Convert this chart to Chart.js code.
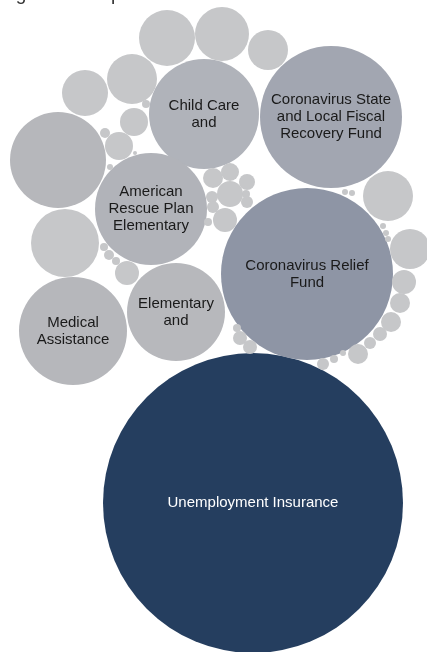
<!DOCTYPE html>
<html lang="en">
<head>
    <meta charset="UTF-8">
    <title>Bubbles</title>
    <script src="https://cdn.jsdelivr.net/npm/chart.js"></script>
    <style>
        body { margin: 0; background: #ffffff; }
        #wrap { width: 427px; height: 652px; position: relative; overflow: hidden; }
    </style>
</head>
<body>
<div id="wrap"><canvas id="bubbleChart" width="427" height="652"></canvas></div>
<script>
    // title (only the bottom of it shows at the top edge)
    const titleText = 'Figure 10: Top Federal Awards';

    // labelled programs: label lines, centre x, centre y, radius
    const programLabels = [
        ['Unemployment Insurance'],
        ['Coronavirus Relief', 'Fund'],
        ['Coronavirus State', 'and Local Fiscal', 'Recovery Fund'],
        ['Child Care', 'and'],
        ['American', 'Rescue Plan', 'Elementary'],
        ['Elementary', 'and'],
        ['Medical', 'Assistance']
    ];
    const programX = [253, 307, 331, 204, 151, 176, 73];
    const programY = [503, 274, 117, 114, 209, 312, 331];
    const programR = [150, 86, 71, 55, 56, 49, 54];

    // the unlabelled smaller programs
    const otherX = [167, 222, 268, 132, 85, 58, 65, 134, 119, 105, 146, 110, 135,
                    104, 109, 116, 127,
                    213, 230, 247, 230, 212, 247, 213, 225, 208, 246,
                    388, 410, 404, 400, 391, 380, 370, 358, 343, 334, 323, 383, 386, 388, 345, 352,
                    237, 240, 250];
    const otherY = [38, 34, 50, 79, 93, 160, 243, 122, 146, 133, 104, 167, 153,
                    247, 255, 261, 273,
                    178, 172, 182, 194, 197, 202, 207, 220, 222, 194,
                    196, 249, 282, 303, 322, 334, 343, 354, 353, 359, 364, 226, 233, 239, 192, 193,
                    328, 338, 347];
    const otherR = [28, 27, 20, 25, 23, 48, 34, 14, 14, 5, 4, 3, 2,
                    4, 5, 4, 12,
                    10, 9, 8, 13, 6, 6, 6, 12, 4, 4,
                    25, 20, 12, 10, 10, 7, 6, 10, 3, 4, 6, 3, 3, 3, 3, 3,
                    4, 7, 7];

    // styles
    const programColors = ['#253e5f', '#8e95a5', '#a2a6b1', '#b0b3ba', '#b1b3b9', '#b7b8bc', '#b6b7bb'];
    const programTextColors = ['#ffffff', '#1a1a1a', '#1a1a1a', '#1a1a1a', '#1a1a1a', '#1a1a1a', '#1a1a1a'];
    const otherColor = '#c6c7c9';
    const bigOtherColor = '#b6b7bb';

    const labelPlugin = {
        id: 'bubbleLabels',
        afterDatasetsDraw(chart) {
            const ctx = chart.ctx;
            const meta = chart.getDatasetMeta(1);
            ctx.save();
            ctx.font = '15px "Liberation Sans", Arial, sans-serif';
            ctx.textAlign = 'center';
            ctx.textBaseline = 'middle';
            meta.data.forEach((el, i) => {
                const lines = programLabels[i];
                const lh = 17;
                const top = el.y - (lines.length - 1) * lh / 2;
                ctx.fillStyle = programTextColors[i];
                lines.forEach((line, j) => ctx.fillText(line, el.x, top + j * lh));
            });
            // title, pushed above the top edge so only descenders remain
            ctx.textAlign = 'left';
            ctx.textBaseline = 'alphabetic';
            ctx.fillStyle = '#333333';
            ctx.font = '19px "Liberation Sans", Arial, sans-serif';
            ctx.fillText(titleText, 0, 0);
            ctx.restore();
        }
    };

    const ctx = document.getElementById('bubbleChart').getContext('2d');
    new Chart(ctx, {
        type: 'bubble',
        data: {
            datasets: [{
                label: 'Other',
                data: otherX.map((x, i) => ({ x: x, y: otherY[i], r: otherR[i] })),
                backgroundColor: otherR.map(r => r >= 45 ? bigOtherColor : otherColor),
                borderWidth: 0,
                hoverBorderWidth: 0
            }, {
                label: 'Programs',
                data: programX.map((x, i) => ({ x: x, y: programY[i], r: programR[i] })),
                backgroundColor: programColors,
                borderWidth: 0,
                hoverBorderWidth: 0
            }]
        },
        options: {
            responsive: false,
            animation: false,
            events: [],
            clip: false,
            layout: { padding: 0, autoPadding: false },
            plugins: {
                legend: { display: false },
                tooltip: { enabled: false }
            },
            scales: {
                x: { type: 'linear', min: 0, max: 427, display: false },
                y: { type: 'linear', min: 0, max: 652, reverse: true, display: false }
            }
        },
        plugins: [labelPlugin]
    });
</script>
</body>
</html>
